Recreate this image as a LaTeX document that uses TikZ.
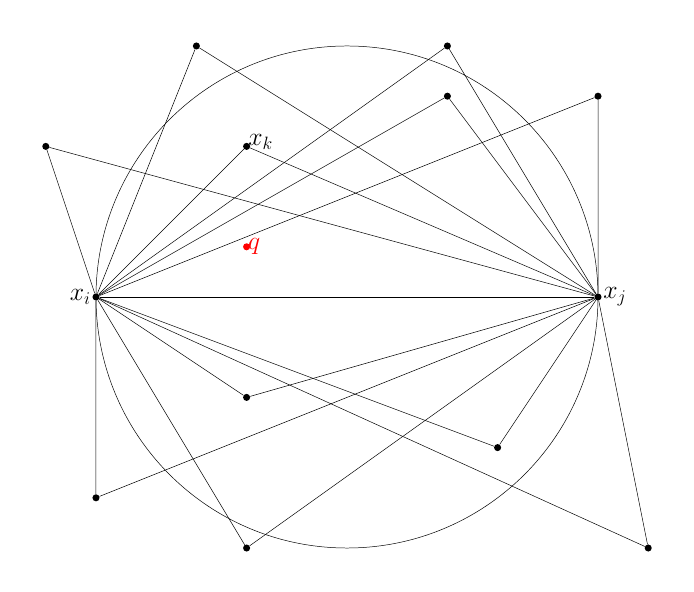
\documentclass[tikz,border=0pt]{standalone}
\usepackage{amsmath}
\usepackage{xcolor}
\usepackage{tikz}
\usetikzlibrary{arrows.meta,positioning}

\begin{document}
\begin{tikzpicture}[
      x=1.422cm, y=1.422cm,
      pt/.style={circle, fill=black, inner sep=0pt, minimum size=0.2cm},
      lbl/.style={font=\huge, inner sep=1pt}
    ]
    \useasboundingbox (-1.912,-5.876) rectangle (11.912,5.916);
    % Circle with diameter xi--xj
    \draw (5,0) circle (5);
    % Main nodes
    \node[pt] (xi) at (0,0) {};
    \node[pt] (xj) at (10,0) {};
    \node[lbl, left=0pt of xi] {$x_i$};
    \node[lbl, right=0pt of xj] {$x_j$};
    \draw (xi) -- (xj);
    % Other points, each joined to xi and xj
    \foreach \name/\pos in {a/{2,5}, b/{7,5}, c/{7,4}, d/{10,4}, e/{-1,3}, xk/{3,3},
                            f/{3,-2}, g/{8,-3}, h/{0,-4}, k/{3,-5}, m/{11,-5}} {
      \node[pt] (\name) at (\pos) {};
      \draw (xi) -- (\name) -- (xj);
    }
    \node[lbl, above right=-6pt and -2pt of xk] {$x_k$};
    % Query point
    \node[pt, fill=red] (q) at (3,1) {};
    \node[lbl, text=red, right=-3pt of q] {$q$};
  \end{tikzpicture}
\end{document}
